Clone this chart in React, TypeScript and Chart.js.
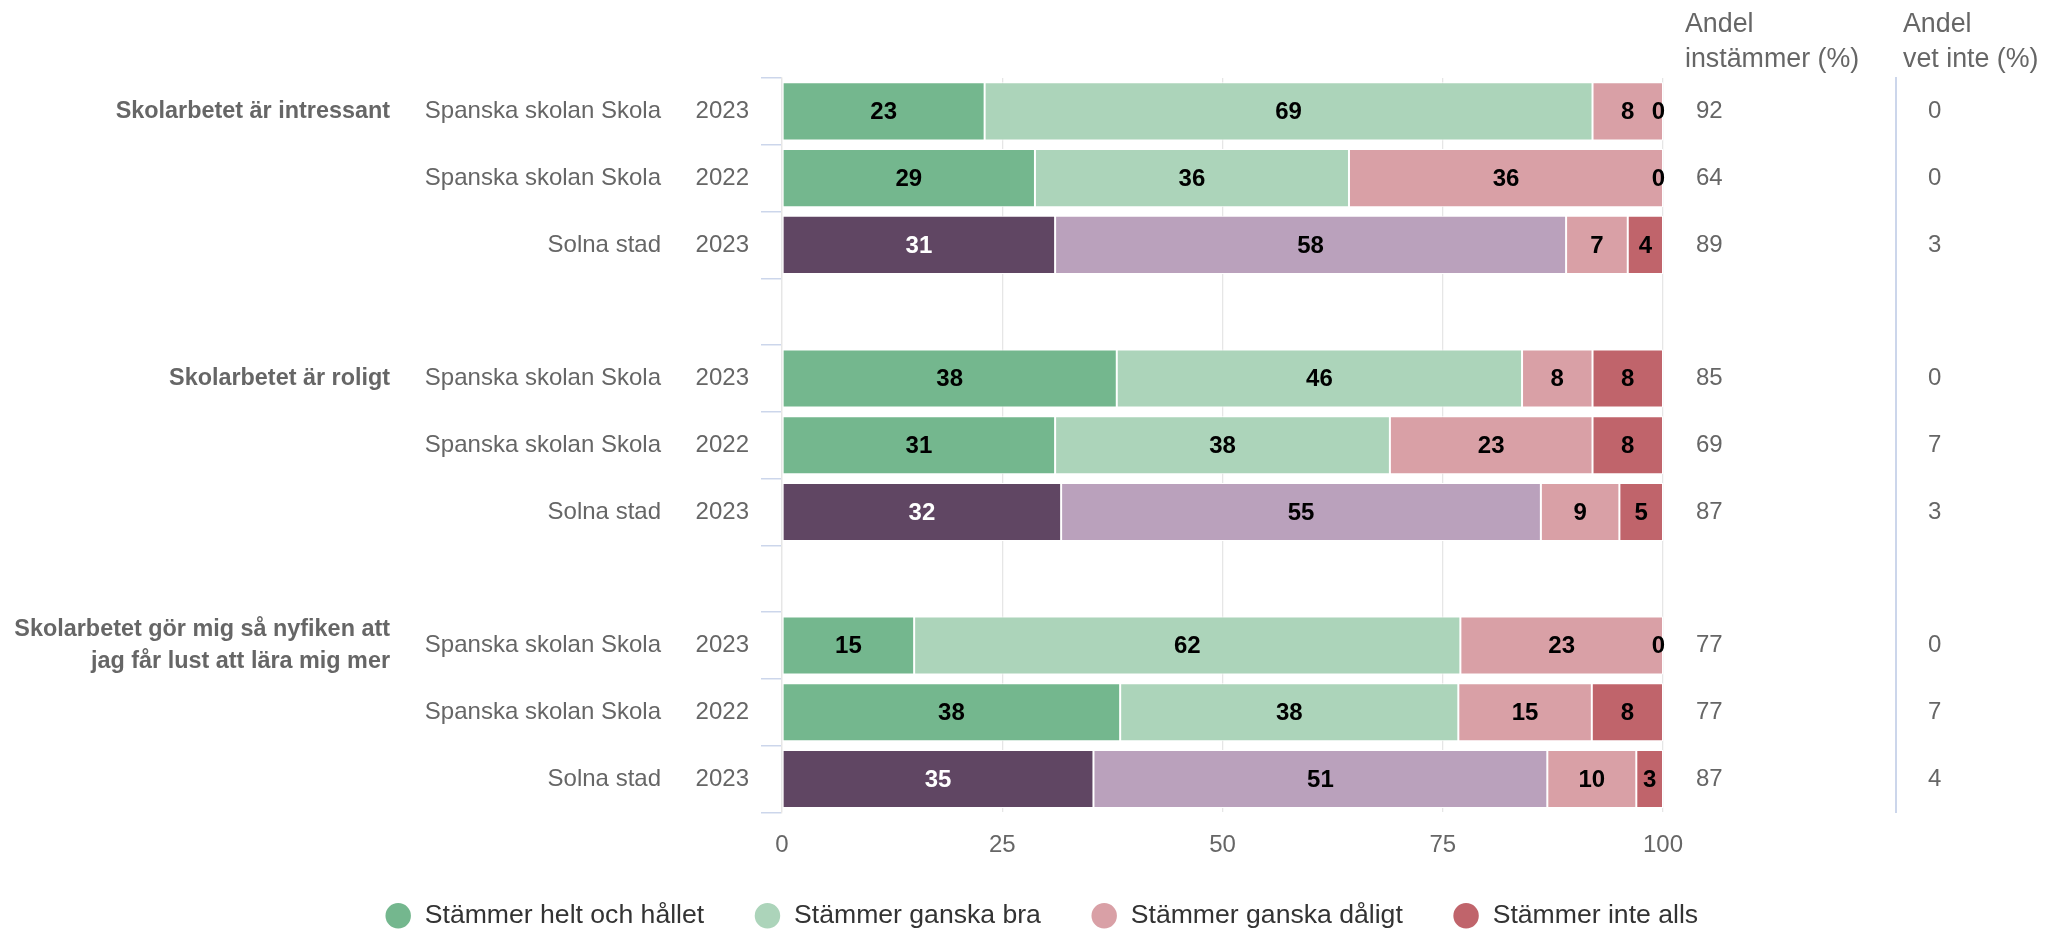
import React, { useEffect, useRef } from 'react';
import { Chart, registerables } from 'chart.js';

Chart.register(...registerables);

const FONT = "'Liberation Sans', Arial, Helvetica, sans-serif";

// ---- Data ----
const yearLabels = ['2023', '2022', '2023', '', '2023', '2022', '2023', '', '2023', '2022', '2023'];
const unitLabels = [
  'Spanska skolan Skola', 'Spanska skolan Skola', 'Solna stad', '',
  'Spanska skolan Skola', 'Spanska skolan Skola', 'Solna stad', '',
  'Spanska skolan Skola', 'Spanska skolan Skola', 'Solna stad',
];
const questionLabels: (string | string[])[] = [
  'Skolarbetet är intressant', '', '', '',
  'Skolarbetet är roligt', '', '', '',
  ['Skolarbetet gör mig så nyfiken att', 'jag får lust att lära mig mer'], '', '',
];
const seriesNames = ['Stämmer helt och hållet', 'Stämmer ganska bra', 'Stämmer ganska dåligt', 'Stämmer inte alls'];
const heltOchHallet = [23, 29, 31, null, 38, 31, 32, null, 15, 38, 35];
const ganskaBra = [69, 36, 58, null, 46, 38, 55, null, 62, 38, 51];
const ganskaDaligt = [8, 36, 7, null, 8, 23, 9, null, 23, 15, 10];
const inteAlls = [0, 0, 4, null, 8, 8, 5, null, 0, 8, 3];
const andelInstammer = ['92', '64', '89', '', '85', '69', '87', '', '77', '77', '87'];
const andelVetInte = ['0', '0', '3', '', '0', '7', '3', '', '0', '7', '4'];
const headerInstammer = ['Andel', 'instämmer (%)'];
const headerVetInte = ['Andel', 'vet inte (%)'];
const xTickValues = [0, 25, 50, 75, 100];

const schoolColors = ['#74b78e', '#acd4ba', '#d9a0a6', '#c0646b'];
const cityColors = ['#604663', '#baa1bc', '#d9a0a6', '#c0646b'];
const cityName = 'Solna stad';

const rawSeries = [heltOchHallet, ganskaBra, ganskaDaligt, inteAlls];

const rowTotals = yearLabels.map((_, i) =>
  rawSeries.reduce((s, arr) => s + (arr[i] ?? 0), 0)
);

const segmentLabelPlugin = {
  id: 'segmentLabels',
  afterDatasetsDraw(chart: any) {
    const ctx = chart.ctx;
    const area = chart.chartArea;
    ctx.save();
    ctx.font = `bold 24px ${FONT}`;
    ctx.textAlign = 'center';
    ctx.textBaseline = 'middle';
    chart.data.datasets.forEach((ds: any, di: number) => {
      const meta = chart.getDatasetMeta(di);
      meta.data.forEach((el: any, i: number) => {
        const raw = rawSeries[di][i];
        if (raw === null || raw === undefined) return;
        const { x, base, y } = el.getProps(['x', 'base', 'y'], true);
        const text = String(raw);
        const w = ctx.measureText(text).width;
        let cx = (x + base) / 2;
        cx = Math.min(cx, area.right - w / 2 + 2);
        ctx.fillStyle = di === 0 && unitLabels[i] === cityName ? '#ffffff' : '#000000';
        ctx.fillText(text, cx, y + 1);
      });
    });
    ctx.restore();
  },
};

const headerPlugin = {
  id: 'columnHeaders',
  afterDraw(chart: any) {
    const ctx = chart.ctx;
    const sA = chart.scales.yAgree;
    const sV = chart.scales.yVetInte;
    ctx.save();
    ctx.font = `26.8px ${FONT}`;
    ctx.fillStyle = '#666666';
    ctx.textAlign = 'left';
    ctx.textBaseline = 'middle';
    headerInstammer.forEach((t, k) => ctx.fillText(t, sA.left + 22, 25 + k * 35));
    headerVetInte.forEach((t, k) => ctx.fillText(t, sV.left + 7, 25 + k * 35));
    ctx.restore();
  },
};

export default function App() {
  const ref = useRef<HTMLCanvasElement>(null);

  useEffect(() => {
    document.body.style.margin = '0';
    const canvas = ref.current!;
    const datasets = seriesNames.map((name, si) => ({
      label: name,
      data: rawSeries[si].map((v, i) => (v === null ? null : (v / rowTotals[i]) * 100)),
      backgroundColor: unitLabels.map((u) => (u === cityName ? cityColors[si] : schoolColors[si])),
      borderColor: '#ffffff',
      borderWidth: 1,
      borderSkipped: false,
      stack: 's',
      categoryPercentage: 1,
      barPercentage: 0.87,
    }));

    const chart = new Chart(canvas, {
      type: 'bar',
      data: { labels: yearLabels, datasets },
      plugins: [segmentLabelPlugin, headerPlugin],
      options: {
        indexAxis: 'y',
        animation: false,
        responsive: false,
        maintainAspectRatio: false,
        layout: { padding: { top: 78, bottom: -8, left: 0, right: -30 } },
        font: { family: FONT },
        plugins: {
          tooltip: { enabled: false },
          legend: {
            position: 'bottom',
            labels: {
              usePointStyle: true,
              pointStyle: 'circle',
              boxHeight: 18,
              boxWidth: 32,
              padding: 50,
              color: '#333333',
              font: { size: 26.6, family: FONT },
              generateLabels: () =>
                seriesNames.map((n, i) => ({
                  text: n,
                  fillStyle: schoolColors[i],
                  strokeStyle: schoolColors[i],
                  lineWidth: 0,
                  pointStyle: 'circle',
                  hidden: false,
                  datasetIndex: i,
                  fontColor: '#333333',
                })),
            },
          },
        },
        scales: {
          x: {
            type: 'linear',
            min: 0,
            max: 100,
            stacked: true,
            afterBuildTicks: (s: any) => {
              s.ticks = xTickValues.map((v) => ({ value: v }));
            },
            grid: { color: '#e6e6e6', drawTicks: false, lineWidth: 1.3 },
            border: { display: false },
            ticks: { color: '#666666', font: { size: 24, family: FONT }, padding: 19 },
            afterFit: (s: any) => { s.height = 40; },
          },
          y: {
            type: 'category',
            stacked: true,
            position: 'left',
            weight: 0,
            offset: true,
            grid: {
              offset: true,
              drawOnChartArea: false,
              drawTicks: true,
              tickLength: 21,
              color: '#ccd6eb',
              lineWidth: 1.5,
            },
            border: { display: true, color: '#e6e6e6', width: 1.3 },
            ticks: { color: '#666666', font: { size: 24, family: FONT }, padding: 12, autoSkip: false },
            afterFit: (s: any) => { s.width = 102; },
          },
          yUnit: {
            type: 'category',
            labels: unitLabels,
            position: 'left',
            weight: 1,
            offset: true,
            grid: { display: false, drawTicks: false },
            border: { display: false },
            ticks: { color: '#666666', font: { size: 24, family: FONT }, padding: 19, autoSkip: false },
            afterFit: (s: any) => { s.width = 280; },
          },
          yQuestion: {
            type: 'category',
            labels: questionLabels as any,
            position: 'left',
            weight: 2,
            offset: true,
            grid: { display: false, drawTicks: false },
            border: { display: false },
            ticks: {
              color: '#666666',
              font: { size: 23.4, family: FONT, weight: 'bold', lineHeight: 1.36 },
              padding: 10,
              autoSkip: false,
            },
            afterFit: (s: any) => { s.width = 400; },
          },
          yAgree: {
            type: 'category',
            labels: andelInstammer,
            position: 'right',
            weight: 0,
            offset: true,
            grid: { display: false, drawTicks: false },
            border: { display: false },
            ticks: { color: '#666666', font: { size: 24, family: FONT }, padding: 33, autoSkip: false },
            afterFit: (s: any) => { s.width = 233; },
          },
          yVetInte: {
            type: 'category',
            labels: andelVetInte,
            position: 'right',
            weight: 1,
            offset: true,
            grid: { display: false, drawTicks: false },
            border: { display: true, color: '#ccd6eb', width: 2 },
            ticks: { color: '#666666', font: { size: 24, family: FONT }, padding: 32, autoSkip: false },
            afterFit: (s: any) => { s.width = 187; },
          },
        },
      } as any,
    });
    return () => chart.destroy();
  }, []);

  return (
    <div style={{ width: 2053, height: 931 }}>
      <canvas ref={ref} width={2053} height={931} style={{ display: 'block' }} />
    </div>
  );
}
